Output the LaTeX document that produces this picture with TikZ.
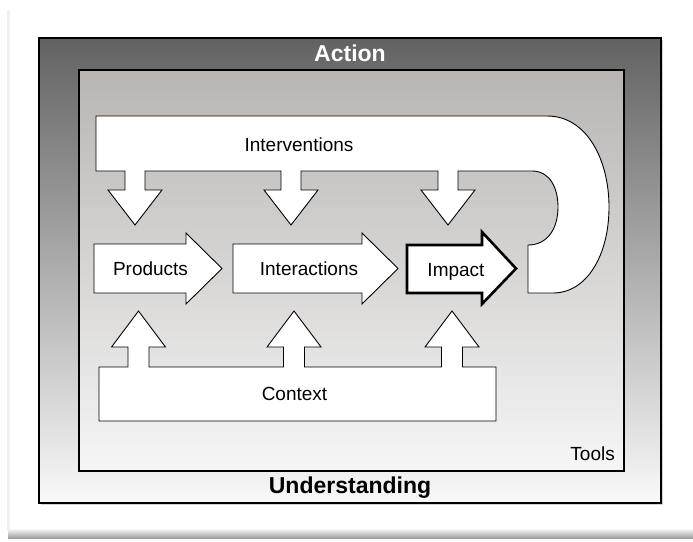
\documentclass[tikz,border=0pt]{standalone}
\usepackage{fontspec}
\setmainfont{Liberation Sans}
\definecolor{outertop}{RGB}{98,98,98}
\definecolor{outerbottom}{RGB}{249,249,249}
\definecolor{innertop}{RGB}{184,181,179}
\definecolor{innerbottom}{RGB}{246,246,246}
\begin{document}
\begin{tikzpicture}[x=1pt,y=-1pt,line join=miter,font=\fontsize{19}{23}\selectfont]
	\tikzset{
		every node/.style={inner sep=0pt},
		blockarrow/.style={draw=black,fill=white,line width=0.9pt},
		frame/.style={draw=black,line width=1.1pt},
		title/.style={font=\fontsize{23}{27}\selectfont\bfseries,anchor=base}
	}
	\useasboundingbox (0,0) rectangle (693,541);
	% paper
	\fill[white] (0,0) rectangle (693,541);
	\shade[top color=white,bottom color=gray!75] (8,528) rectangle (693,538);
	\fill[gray!12] (7,10) rectangle (10,530);
	% outer frame
	\fill[gray!35] (41,40) rectangle (663,505);
	\shadedraw[frame,top color=outertop,bottom color=outerbottom] (39,38) rectangle (661,503);
	% inner frame
	\shadedraw[frame,top color=innertop,bottom color=innerbottom,line width=1.3pt] (79,70) rectangle (624,471);
	% interventions
	\draw[blockarrow] (96,116) -- (96,171)
		\foreach \c in {135,291,448} { -- (\c-10,171) -- (\c-10,190) -- (\c-27,190) -- (\c,225) -- (\c+27,190) -- (\c+10,190) -- (\c+10,171) }
		-- (532,171) .. controls (550,171) and (558,188) .. (558,207)
		.. controls (558,228) and (548,245) .. (528,245) -- (528,293) -- (553,293)
		.. controls (587,293) and (609,255) .. (609,207)
		.. controls (609,160) and (587,116) .. (547,116) -- cycle;
	% context
	\draw[blockarrow] (99,421) -- (99,367)
		\foreach \c in {138.5,294,452} { -- (\c-10.5,367) -- (\c-10.5,347) -- (\c-27,347) -- (\c,311) -- (\c+27,347) -- (\c+10.5,347) -- (\c+10.5,367) }
		-- (496,367) -- (496,421) -- cycle;
	% products, interactions, impact
	\foreach \l/\n/\t in {94/186/222,233/362/398}
		\draw[blockarrow] (\l,244) -- (\n,244) -- (\n,233) -- (\t,268.5) -- (\n,304) -- (\n,293) -- (\l,293) -- cycle;
	\draw[blockarrow,line width=2.6pt] (407,245) -- (482,245) -- (482,232) -- (516,268.5) -- (482,304) -- (482,293) -- (407,293) -- cycle;
	% labels
	\node[title,text=white] (action) at (350,61) {Action};
	\node[title] (understanding) at (350,493) {Understanding};
	\node[anchor=base east] (tools) at (615,460) {Tools};
	\node[anchor=base] (interventions) at (299,151) {Interventions};
	\node[anchor=base] (products) at (150.5,275) {Products};
	\node[anchor=base] (interactions) at (309,275) {Interactions};
	\node[anchor=base] (impact) at (456,276) {Impact};
	\node[anchor=base] (context) at (294.5,400) {Context};
\end{tikzpicture}
\end{document}
